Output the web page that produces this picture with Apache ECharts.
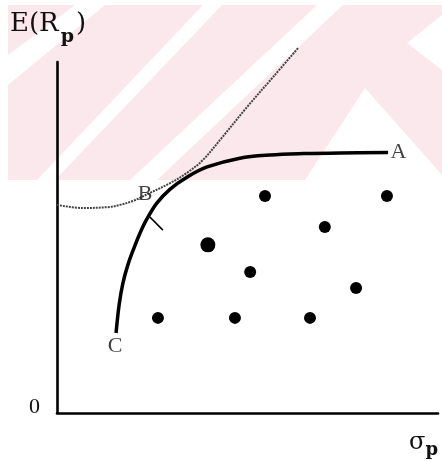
<!DOCTYPE html>
<html>
<head>
<meta charset="utf-8">
<script src="https://cdn.jsdelivr.net/npm/echarts@6/dist/echarts.min.js"></script>
<style>
  html, body { margin: 0; padding: 0; background: #fff; }
  #chart { width: 442px; height: 461px; }
</style>
</head>
<body>
<div id="chart"></div>
<script>
// Efficient frontier C-B-A (risk σp on x, expected return E(Rp) on y)
const frontierX = [15.5, 16.3, 17.3, 18.6, 20.2, 21.8, 23.6, 26.2, 29.7, 34.1, 39.4, 48.0, 55.9, 64.8, 74.3, 86.9];
const frontierY = [22.8, 30.8, 37.0, 42.2, 47.0, 51.3, 55.3, 59.8, 63.8, 67.2, 70.1, 72.6, 73.5, 73.9, 74.1, 74.2];

// Indifference curve touching the frontier at B
const curveX = [0, 6.8, 13.9, 16.5, 19.9, 24.4, 29.7, 34.1, 38.3, 42.8, 49.9, 56.7, 63.3];
const curveY = [59.3, 58.4, 58.7, 59.3, 60.4, 62.7, 65.5, 68.4, 72.1, 77.8, 87.2, 95.7, 104.0];

// Individual portfolios inside the feasible set
const assetX = [54.6, 86.6, 70.3, 39.6, 50.7, 78.5, 26.5, 46.7, 66.4];
const assetY = [61.8, 61.8, 53.0, 47.9, 40.2, 35.6, 27.1, 27.1, 27.1];
const assetSize = [12, 12, 12, 15, 12, 12, 12, 12, 12];

// Short tick crossing the frontier below B
const tickX = [24.4, 27.8];
const tickY = [55.8, 52.1];

// Point names and where they sit
const pointNames = ['A', 'B', 'C'];
const pointX = [86.9, 24.4, 15.5];
const pointY = [74.2, 62.7, 22.8];

const yTickValues = [0];
const yTickLabels = ['0'];

const serif = '"Liberation Serif", "DejaVu Serif", serif';
const wideSerif = '"DejaVu Serif", "Liberation Serif", serif';
const ink = '#000';

const labelPlacement = {
  A: { position: 'right', distance: 2, offset: [0, 0] },
  B: { position: 'inside', distance: 0, offset: [-5, 1] },
  C: { position: 'bottom', distance: 2, offset: [-1, 0] }
};

const namedPoints = pointNames.map((n, i) => ({
  value: [pointX[i], pointY[i]],
  label: Object.assign({ show: true, formatter: n }, labelPlacement[n])
}));

const frontierData = frontierX.map((x, i) => [x, frontierY[i]]);
const curveData = curveX.map((x, i) => [x, curveY[i]]);
const assetData = assetX.map((x, i) => ({ value: [x, assetY[i]], symbolSize: assetSize[i] }));
const tickData = tickX.map((x, i) => [x, tickY[i]]);

// Pale diagonal backdrop bands
const pink = '#fbe8ec';
const bands = [
  [[8, 5], [442, 5], [442, 180], [8, 180]]
];
const gaps = [
  [[8, 55], [8, 85], [105, 5], [75, 5]],
  [[37, 180], [55, 180], [222, 5], [203, 5]],
  [[130, 180], [157, 180], [343, 5], [317, 5]],
  [[305, 180], [365, 88], [442, 175], [442, 180]],
  [[407, 43], [442, 15], [442, 70]]
];
const backdrop = [];
bands.forEach(p => backdrop.push({ type: 'polygon', z: -20, silent: true, shape: { points: p }, style: { fill: pink } }));
gaps.forEach(p => backdrop.push({ type: 'polygon', z: -19, silent: true, shape: { points: p }, style: { fill: '#fff' } }));

const chart = echarts.init(document.getElementById('chart'), null, { renderer: 'canvas' });

chart.setOption({
  backgroundColor: '#fff',
  animation: false,
  textStyle: { fontFamily: serif, color: ink },
  graphic: backdrop.concat([
    {
      type: 'text', left: 10, top: 11, z: 10,
      style: {
        text: '{a|E(R}{s|p}{a|)}',
        rich: {
          a: { fontFamily: wideSerif, fontSize: 26, fill: '#111', verticalAlign: 'top', lineHeight: 30 },
          s: { fontFamily: wideSerif, fontSize: 19, fill: '#111', fontWeight: 'bold', verticalAlign: 'top', lineHeight: 30, padding: [17, 2, 0, 2] }
        }
      }
    },
    {
      type: 'text', left: 409, top: 431, z: 10,
      style: {
        text: '{a|σ}{s|p}',
        rich: {
          a: { fontFamily: wideSerif, fontSize: 24, fill: '#111', verticalAlign: 'top', lineHeight: 28 },
          s: { fontFamily: wideSerif, fontSize: 18, fill: '#111', fontWeight: 'bold', verticalAlign: 'top', lineHeight: 28, padding: [10, 0, 0, 0] }
        }
      }
    }
  ]),
  grid: { left: 57, right: 4, top: 62, bottom: 48, containLabel: false },
  xAxis: {
    type: 'value', min: 0, max: 100,
    axisLine: { show: true, lineStyle: { color: ink, width: 2.6 } },
    axisTick: { show: false }, axisLabel: { show: false }, splitLine: { show: false }
  },
  yAxis: {
    type: 'value', min: 0, max: 100,
    axisLine: { show: true, lineStyle: { color: ink, width: 2.6 } },
    axisTick: { show: false },
    splitLine: { show: false },
    axisLabel: {
      show: true,
      customValues: yTickValues,
      formatter: v => yTickLabels[yTickValues.indexOf(v)] || '',
      fontFamily: serif, fontSize: 22, color: '#111', margin: 17,
      verticalAlign: 'bottom', lineHeight: 12
    }
  },
  series: [
    {
      type: 'line', data: curveData, smooth: 0.35, symbol: 'none', clip: false,
      lineStyle: { color: '#444', width: 2, type: [2, 1] },
      z: 3
    },
    {
      type: 'line', data: frontierData, smooth: 0.35, symbol: 'none', clip: false,
      lineStyle: { color: ink, width: 3.5 },
      z: 4
    },
    {
      type: 'line', data: tickData, symbol: 'none', clip: false,
      lineStyle: { color: ink, width: 1.5 }, z: 4
    },
    {
      type: 'scatter', data: assetData, symbol: 'circle',
      itemStyle: { color: ink, opacity: 1 }, z: 5
    },
    {
      type: 'scatter', data: namedPoints, symbolSize: 1, clip: false,
      itemStyle: { color: 'rgba(0,0,0,0)' },
      label: { fontFamily: serif, fontSize: 22, color: '#111' },
      z: 6
    }
  ]
});
</script>
</body>
</html>
